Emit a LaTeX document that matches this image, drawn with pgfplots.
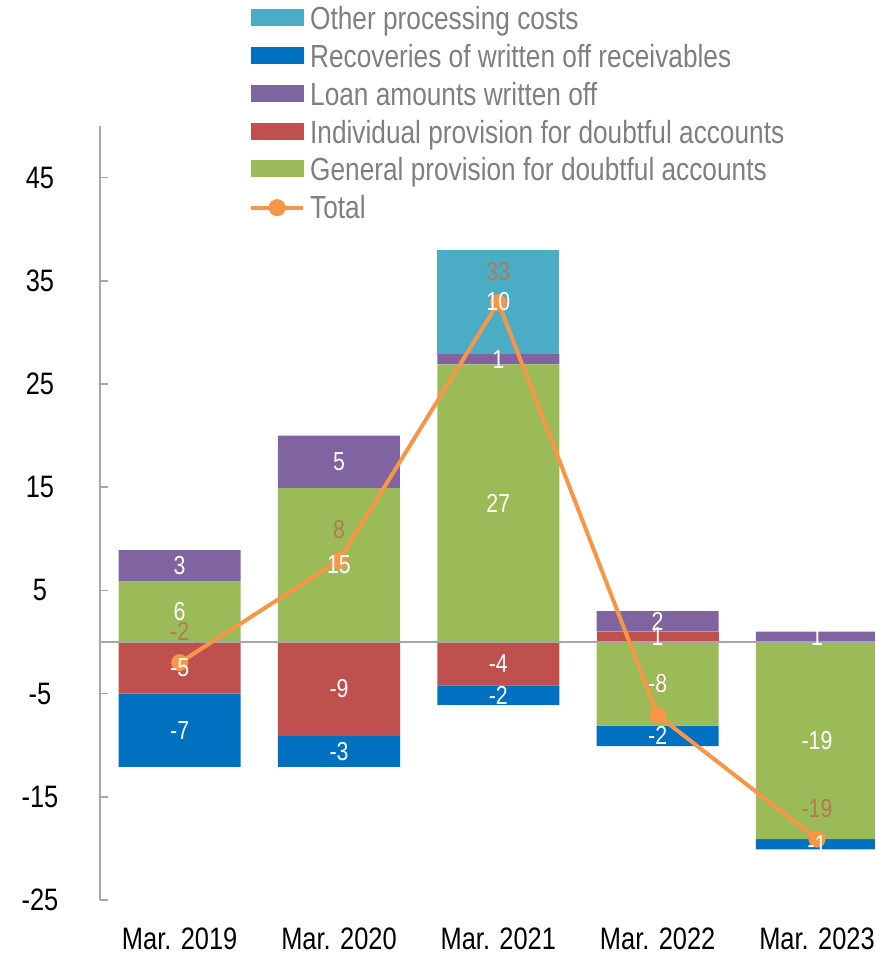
\documentclass[border=0pt]{standalone}
\usepackage{fontspec}
\setmainfont[FakeStretch=0.82]{Liberation Sans}
\usepackage{pgfplots}
\pgfplotsset{compat=1.18}
\usepackage{pgfplotstable}

\definecolor{cOth}{HTML}{4BACC6}
\definecolor{cRec}{HTML}{0070C0}
\definecolor{cLoan}{HTML}{8064A2}
\definecolor{cInd}{HTML}{C0504D}
\definecolor{cGen}{HTML}{9BBB59}
\definecolor{cTot}{HTML}{F79646}
\definecolor{totlab}{HTML}{B57A50}
\definecolor{leggray}{HTML}{7F7F7F}
\definecolor{axgray}{HTML}{A6A6A6}

\newcommand\tickfont{\fontsize{15.5pt}{18pt}\selectfont}
\newcommand\legfont{\fontsize{16pt}{19pt}\selectfont}
\newcommand\lblfont{\fontsize{13pt}{15pt}\selectfont}
\newcommand\unitfont{\fontsize{14pt}{16pt}\selectfont}

% positive parts of each component
\pgfplotstableread{
x gen ind loan rec oth
0 5.9 0 3.0 0 0
1 14.9 0 5.1 0 0
2 26.9 0 1.0 0 10.1
3 0 1.0 2.0 0 0
4 0 0 1.0 0 0
}\pospart
% negative parts of each component
\pgfplotstableread{
x gen ind loan rec oth
0 0 -5.0 0 -7.1 0
1 0 -9.1 0 -3.0 0
2 0 -4.2 0 -1.9 0
3 -8.1 0 0 -2.0 0
4 -19.1 0 0 -1.0 0
}\negpart
% total
\pgfplotstableread{
x y label
0 -2.0 -2
1 7.9 8
2 32.9 33
3 -7.1 -7
4 -19.1 -19
}\total
% segment labels (centre of each segment)
\pgfplotstableread{
x y label
0 2.95 6
0 7.4 3
0 -2.5 -5
0 -8.55 -7
1 7.45 15
1 17.45 5
1 -4.55 -9
1 -10.6 -3
2 13.45 27
2 27.4 1
2 32.95 10
2 -2.1 -4
2 -5.15 -2
3 0.5 1
3 2.0 2
3 -4.05 -8
3 -9.1 -2
4 0.5 1
4 -9.55 -19
4 -19.6 -1
}\seglabels

\pgfplotsset{
  base/.style={
    scale only axis, width=387.5pt, height=387pt,
    xmin=-0.5, xmax=4.364, ymin=-25, ymax=50,
    enlargelimits=false,
  },
}

\begin{document}
\begin{tikzpicture}
\path[use as bounding box] (-50pt,-27pt) rectangle (387.5pt,450pt);

% positive stacks + axis decorations
\begin{axis}[base, ybar stacked, bar width=61pt,
  axis lines*=left, axis line style={-},
  x axis line style={draw=none},
  y axis line style={color=axgray, line width=0.75pt},
  tick align=inside, major tick length=4pt,
  xtick={0,1,2,3,4},
  xticklabels={Mar. 2019,Mar. 2020,Mar. 2021,Mar. 2022,Mar. 2023},
  xtick style={draw=none},
  x tick label style={font=\tickfont, anchor=center, yshift=-19.5pt},
  ytick={-25,-15,-5,5,15,25,35,45},
  yticklabels={-25,-15,-5,5,15,25,35,45},
  ytick style={color=axgray, line width=0.75pt},
  y tick label style={font=\tickfont, anchor=center, xshift=-30pt},
]
\addplot[fill=cGen, draw=none] table[x=x, y=gen] {\pospart};
\addplot[fill=cInd, draw=none] table[x=x, y=ind] {\pospart};
\addplot[fill=cLoan, draw=none] table[x=x, y=loan] {\pospart};
\addplot[fill=cRec, draw=none] table[x=x, y=rec] {\pospart};
\addplot[fill=cOth, draw=none] table[x=x, y=oth] {\pospart};
\end{axis}

% negative stacks
\begin{axis}[base, ybar stacked, bar width=61pt, hide axis]
\addplot[fill=cGen, draw=none] table[x=x, y=gen] {\negpart};
\addplot[fill=cInd, draw=none] table[x=x, y=ind] {\negpart};
\addplot[fill=cLoan, draw=none] table[x=x, y=loan] {\negpart};
\addplot[fill=cRec, draw=none] table[x=x, y=rec] {\negpart};
\addplot[fill=cOth, draw=none] table[x=x, y=oth] {\negpart};
\end{axis}

% zero line, total line, labels, legend
\begin{axis}[base, hide axis,
  legend cell align=left,
  legend style={draw=none, fill=none, at={(axis description cs:0.192,1.156)},
    anchor=north west, font=\legfont, text=leggray, inner sep=0pt,
    row sep=3.4pt, nodes={inner sep=0pt, text height=12pt, text depth=3.5pt},
    /tikz/every odd column/.append style={column sep=2.5pt}},
]
\addlegendimage{legend image code/.code={\fill[cOth] (0pt,-2.25pt) rectangle (26pt,5.75pt);}}
\addlegendentry{Other processing costs}
\addlegendimage{legend image code/.code={\fill[cRec] (0pt,-2.25pt) rectangle (26pt,5.75pt);}}
\addlegendentry{Recoveries of written off receivables}
\addlegendimage{legend image code/.code={\fill[cLoan] (0pt,-2.25pt) rectangle (26pt,5.75pt);}}
\addlegendentry{Loan amounts written off}
\addlegendimage{legend image code/.code={\fill[cInd] (0pt,-2.25pt) rectangle (26pt,5.75pt);}}
\addlegendentry{Individual provision for doubtful accounts}
\addlegendimage{legend image code/.code={\fill[cGen] (0pt,-2.25pt) rectangle (26pt,5.75pt);}}
\addlegendentry{General provision for doubtful accounts}

\addplot[axgray, line width=0.75pt, mark=none, forget plot] coordinates {(-0.5,0) (4.364,0)};

\addplot[cTot, line width=2pt, mark=*, mark size=3.25pt,
  mark options={fill=cTot, draw=cTot},
  legend image code/.code={\draw[cTot, line width=2pt] (0pt,1.25pt) -- (26pt,1.25pt);
     \fill[cTot] (13pt,1.25pt) circle (3.25pt);},
  nodes near coords, point meta=explicit symbolic,
  every node near coord/.append style={font=\lblfont, text=totlab, anchor=center, yshift=15.5pt},
] table[x=x, y=y, meta=label] {\total};
\addlegendentry{Total}

\addplot[draw=none, mark=none, forget plot,
  nodes near coords, point meta=explicit symbolic,
  every node near coord/.append style={font=\lblfont, text=white, anchor=center},
] table[x=x, y=y, meta=label] {\seglabels};

\node[font=\unitfont, anchor=center] at (axis description cs:-0.0077,1.1047) {(100 million yen)};
\end{axis}
\end{tikzpicture}
\end{document}
